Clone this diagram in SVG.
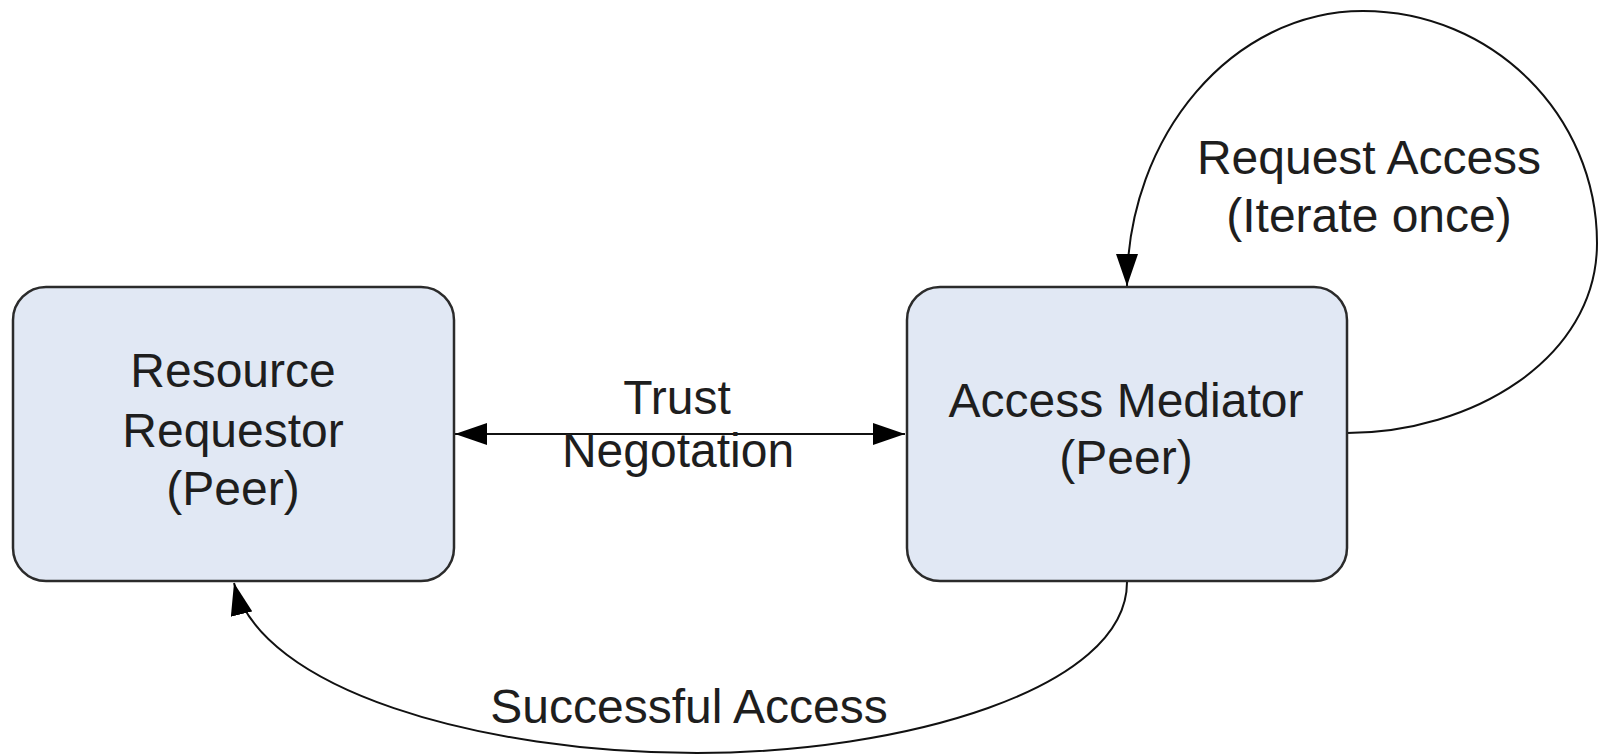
<svg xmlns="http://www.w3.org/2000/svg" width="1598" height="754" viewBox="0 0 1598 754">
  <style>
    .box { fill: #e1e8f4; stroke: #2b2b2b; stroke-width: 2.5; }
    .lbl { font-family: "Liberation Sans", Arial, sans-serif; font-size: 48px; fill: #1e1e1e; text-anchor: middle; }
    .edge { fill: none; stroke: #111; stroke-width: 2; }
  </style>
  <defs>
    <marker id="arr" markerUnits="userSpaceOnUse" markerWidth="32" markerHeight="22" refX="32" refY="11" orient="auto-start-reverse">
      <path d="M0,0 L32,11 L0,22 Z" fill="#000"/>
    </marker>
  </defs>
  <rect width="1598" height="754" fill="#fff"/>
  <g id="connectors">
    <path class="edge" d="M455,434 L905,434" marker-start="url(#arr)" marker-end="url(#arr)"/>
    <path class="edge" d="M1347,433 C1470,433 1597,360 1597,243 C1597,115 1492,11 1363,11 C1233,11 1127,135 1127,286" marker-end="url(#arr)"/>
    <path class="edge" d="M1127,582 C1127,690 900,753 697,753 C480,753 260,690 234,583" marker-end="url(#arr)"/>
    <text class="lbl" x="677" y="414">Trust</text>
    <text class="lbl" x="678" y="467">Negotation</text>
    <text class="lbl" x="1369" y="174">Request Access</text>
    <text class="lbl" x="1369" y="232">(Iterate once)</text>
    <text class="lbl" x="689" y="723">Successful Access</text>
  </g>
  <g id="resource-requestor">
    <rect class="box" x="13" y="287" width="441" height="294" rx="33" ry="33"/>
    <text class="lbl" x="233" y="387">Resource</text>
    <text class="lbl" x="233" y="447">Requestor</text>
    <text class="lbl" x="233" y="505">(Peer)</text>
  </g>
  <g id="access-mediator">
    <rect class="box" x="907" y="287" width="440" height="294" rx="33" ry="33"/>
    <text class="lbl" x="1126" y="417">Access Mediator</text>
    <text class="lbl" x="1126" y="474">(Peer)</text>
  </g>
</svg>
